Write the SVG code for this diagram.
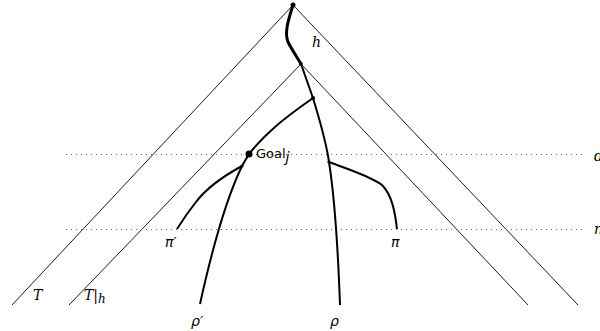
<svg xmlns="http://www.w3.org/2000/svg" width="600" height="331" viewBox="0 0 600 331">
<style>
.tri{fill:none;stroke:#000;stroke-width:0.9}
.dot{fill:none;stroke:#666;stroke-width:1;stroke-dasharray:1 4}
.br{fill:none;stroke:#000;stroke-width:2}
.thick{fill:none;stroke:#000;stroke-width:3}
.m{font-family:"DejaVu Serif","Liberation Serif",serif;font-style:italic;font-size:14px;fill:#000}
.ms{font-family:"DejaVu Sans","Liberation Sans",sans-serif;font-style:italic;font-size:14px;fill:#000}
.s{font-family:"DejaVu Sans","Liberation Sans",sans-serif;font-size:13px;fill:#000}
</style>
<rect width="600" height="331" fill="#fff"/>
<g id="trees">
<path class="tri" d="M12,305 L293,5 L578,305"/>
<path class="tri" d="M69,305 L301,64 L528,305"/>
</g>
<g id="levels">
<line class="dot" x1="66" y1="154.5" x2="584" y2="154.5"/>
<line class="dot" x1="66" y1="229.5" x2="584" y2="229.5"/>
</g>
<g id="connectors">
<path class="thick" d="M293,5 C289,18 284,32 288,42 C292,50 297,57 301,64"/>
<path class="br" d="M301,64 L313,98 C319,118 326,140 329,162 C335,200 338,250 340,305"/>
<path class="br" d="M313,98 C296,110 285,118 275,127 C265,136 256,145 249,154"/>
<path class="br" d="M249,154 L242,166"/>
<path class="br" d="M242,166 C220,178 205,190 196,202 C188,212 182,221 177,229"/>
<path class="br" d="M242,166 C228,195 213,245 200,304"/>
<path class="br" d="M329,162 C350,170 370,176 382,185 C392,195 395,212 397,229"/>
</g>
<g id="nodes">
<circle cx="293" cy="5" r="2.5"/>
<circle cx="301" cy="64" r="1.8"/>
<circle cx="313" cy="98" r="2"/>
<circle id="goal" cx="249" cy="154" r="3.5"/>
<circle cx="242" cy="166" r="1.6"/>
<circle cx="329" cy="162" r="1.6"/>
</g>
<g id="labels">
<text class="m" x="312" y="47">h</text>
<text class="s" x="256" y="158">Goal<tspan class="ms" dy="4" font-size="11">j</tspan></text>
<text class="ms" x="165" y="247">π′</text>
<text class="ms" x="391" y="247">π</text>
<text class="ms" x="191" y="326">ρ′</text>
<text class="ms" x="330" y="326">ρ</text>
<text class="m" x="33" y="300" font-size="16">T</text>
<text class="m" x="84" y="300" font-size="16">T<tspan font-style="normal">|</tspan><tspan font-size="12" dy="3">h</tspan></text>
<text class="m" x="594" y="161">d</text>
<text class="m" x="594" y="234">n</text>
</g>
</svg>
